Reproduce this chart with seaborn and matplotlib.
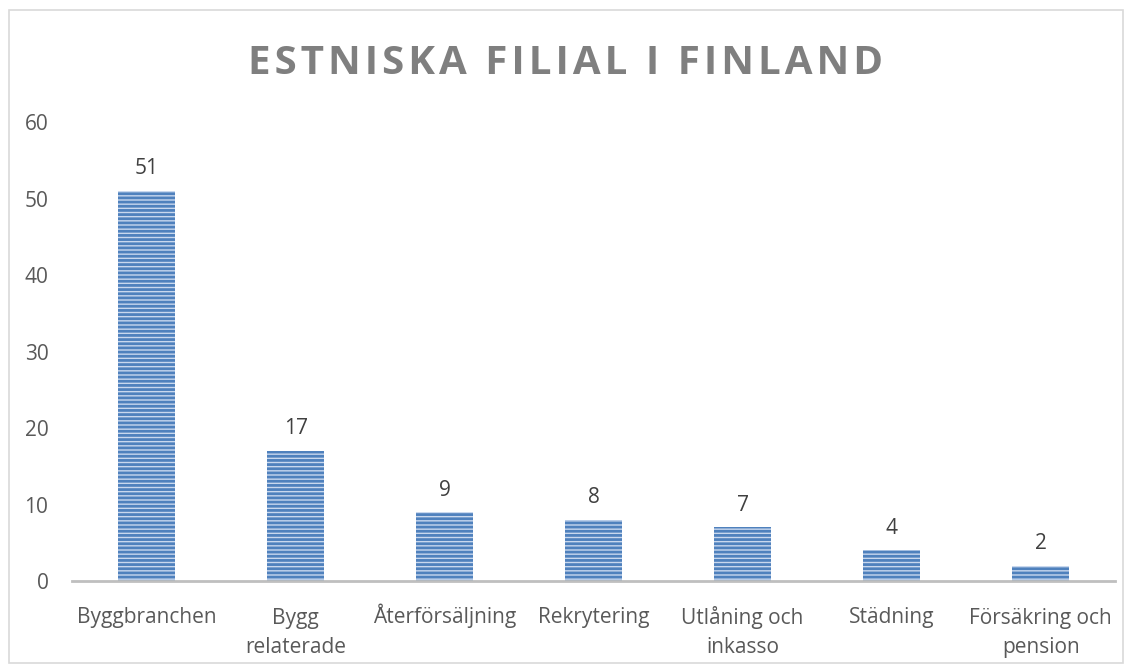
import matplotlib
matplotlib.use("Agg")
import matplotlib.pyplot as plt
import seaborn as sns
import pandas as pd
from matplotlib.patches import Rectangle

categories = ["Byggbranchen", "Bygg\nrelaterade", "Återförsäljning", "Rekrytering",
              "Utlåning och\ninkasso", "Städning", "Försäkring och\npension"]
values = [51, 17, 9, 8, 7, 4, 2]
title = "ESTNISKA FILIAL I FINLAND"

sns.set_theme(style="white")
plt.rcParams['font.family'] = ['Open Sans', 'DejaVu Sans']
plt.rcParams['hatch.linewidth'] = 2.0
plt.rcParams['hatch.color'] = '#4f81bd'

df = pd.DataFrame({"cat": categories, "val": values})

fig = plt.figure(figsize=(11.31, 6.66), dpi=100)
ax = fig.add_axes([0.0637, 0.1276, 0.9223, 0.6892])
sns.barplot(data=df, x="cat", y="val", ax=ax, color="#c9d8ee", width=0.38,
            saturation=1)
for p in ax.patches:
    p.set_hatch('----')
    p.set_edgecolor('#4f81bd')
    p.set_linewidth(0)

ax.set_ylim(0, 60)
ax.set_xlim(-0.5, len(categories) - 0.5)
ax.set_yticks(range(0, 61, 10))
ax.set_xlabel("")
ax.set_ylabel("")
for s in ["top", "right", "left"]:
    ax.spines[s].set_visible(False)
ax.spines["bottom"].set_color("#bfbfbf")
ax.spines["bottom"].set_linewidth(2)
ax.tick_params(axis="both", colors="#595959", labelsize=15, length=0)
ax.tick_params(axis="y", pad=17)
ax.tick_params(axis="x", labelbottom=False)

# category labels, first-line baselines aligned
line_gap_pt = 21.6
for i, cat in enumerate(categories):
    n = cat.count("\n")
    ax.annotate(cat, xy=(i, 0), xycoords=("data", "axes fraction"),
                xytext=(0, -(30 + n * line_gap_pt)), textcoords="offset points",
                ha="center", va="baseline", fontsize=15, color="#595959",
                linespacing=1.5, multialignment="center")

for i, v in enumerate(values):
    ax.text(i, v + 1.5, str(v), ha="center", va="bottom", fontsize=15, color="#404040")

spaced_title = "\u200a".join(title)
fig.text(0.5, 0.905, spaced_title, ha="center", va="center", fontsize=29,
         fontweight="bold", color="#7f7f7f")

fig.patches.append(Rectangle((0.008, 0.005), 0.985, 0.98, transform=fig.transFigure,
                             fill=False, edgecolor="#d9d9d9", linewidth=1.2))

fig.savefig("out.png", dpi=100)
